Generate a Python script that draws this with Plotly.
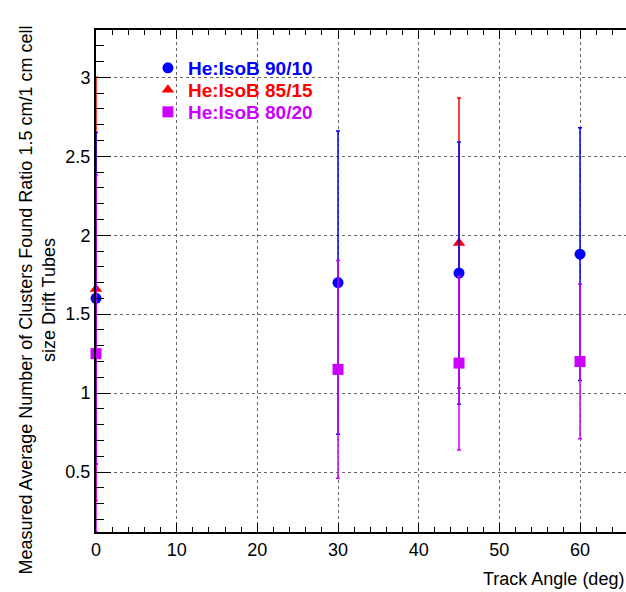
import plotly.graph_objects as go

# Data
angles_9010 = [0, 30, 45, 60]
ratio_9010 = [1.60, 1.70, 1.76, 1.88]
err_9010 = [1.05, 0.96, 0.83, 0.80]

angles_8515 = [0, 45]
ratio_8515 = [1.66, 1.95]
err_8515 = [1.34, 0.92]

angles_8020 = [0, 30, 45, 60]
ratio_8020 = [1.25, 1.15, 1.19, 1.20]
err_8020 = [1.13, 0.69, 0.55, 0.49]

names = ["He:IsoB 90/10", "He:IsoB 85/15", "He:IsoB 80/20"]
colors = ["#0000FF", "#FF0000", "#CC00FF"]
symbols = ["circle", "triangle-up", "square"]

FONT = "Liberation Sans, Arial, Helvetica, sans-serif"

fig = go.Figure()
series = [(angles_9010, ratio_9010, err_9010),
          (angles_8515, ratio_8515, err_8515),
          (angles_8020, ratio_8020, err_8020)]
legends = ["legend", "legend2", "legend3"]
legend_rows = [68, 90, 112]
draw_order = [1, 0, 2]
for i in draw_order:
    xs, ys, es = series[i]
    fig.add_trace(go.Scatter(
        x=xs, y=ys, mode="markers",
        name=f"<b><span style='color:{colors[i]}'>{names[i]}</span></b>",
        marker=dict(symbol=symbols[i], color=colors[i], size=11),
        error_y=dict(type="data", array=es, visible=True, color=colors[i],
                     thickness=1.5, width=2),
        legend=legends[i],
        cliponaxis=False,
    ))

leg_common = dict(bgcolor="rgba(0,0,0,0)", borderwidth=0,
                  font=dict(family=FONT, size=19),
                  xanchor="left", yanchor="middle", x=0.098)
fig.update_layout(
    width=626, height=592,
    margin=dict(l=96, r=0, t=30, b=60),
    plot_bgcolor="white", paper_bgcolor="white",
    font=dict(family=FONT, size=18, color="black"),
    legend=dict(**leg_common, y=1 - (legend_rows[0] - 30) / 502),
    legend2=dict(**leg_common, y=1 - (legend_rows[1] - 30) / 502),
    legend3=dict(**leg_common, y=1 - (legend_rows[2] - 30) / 502),
    showlegend=True,
)

axis_common = dict(
    showline=True, linecolor="black", linewidth=2,
    ticks="inside", tickcolor="black", tickwidth=1,
    showgrid=True, gridcolor="#666666", gridwidth=1, griddash="dot",
    zeroline=False, tickfont=dict(family=FONT, size=18, color="black"),
)
fig.update_xaxes(**axis_common, mirror="allticks", range=[0, 65.7], tick0=0, dtick=10, ticklen=9,
                 minor=dict(ticks="inside", dtick=2, ticklen=5, tickcolor="black", showgrid=False))
fig.update_yaxes(**axis_common, mirror=False, range=[0.12, 3.30], tick0=0, dtick=0.5, ticklen=15,
                 minor=dict(ticks="inside", dtick=0.1, ticklen=8, tickcolor="black", showgrid=False))

fig.add_annotation(text="Track Angle (deg)", xref="paper", yref="paper",
                   x=1.0, y=(532 - 579) / 502, xanchor="right", yanchor="middle",
                   showarrow=False, font=dict(family=FONT, size=18, color="black"))
fig.add_annotation(text="Measured Average Number of Clusters Found Ratio 1.5 cm/1 cm cell<br>size Drift Tubes",
                   xref="paper", yref="paper", x=(36.5 - 96) / 530, y=1 - (300 - 30) / 502,
                   xanchor="center", yanchor="middle", textangle=-90, showarrow=False,
                   font=dict(family=FONT, size=18, color="black"))

fig.write_html("out.html")
